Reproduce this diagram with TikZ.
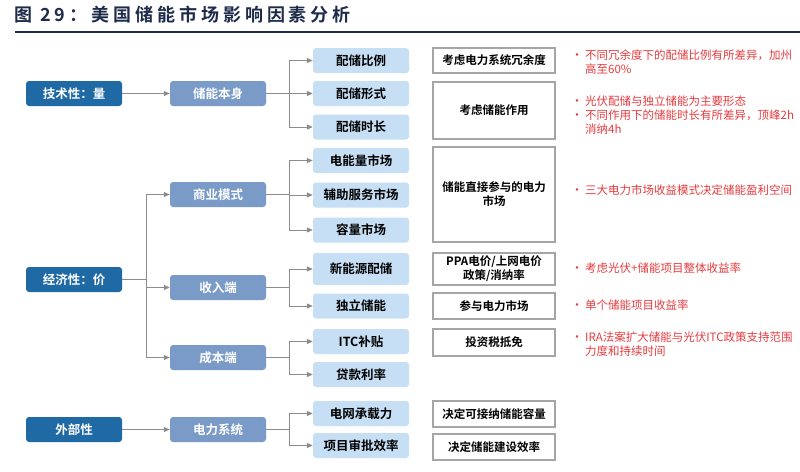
\documentclass[tikz,border=0pt]{standalone}
\usepackage{fontspec}
\setmainfont{Noto Sans CJK SC}[BoldFont={Noto Sans CJK SC Bold}]
\usetikzlibrary{arrows.meta}
\definecolor{deepblue}{HTML}{1F69A5}
\definecolor{midblue}{HTML}{7A9BC8}
\definecolor{paleblue}{HTML}{C6DFF5}
\definecolor{linegray}{HTML}{8C8C8C}
\definecolor{framegray}{HTML}{A5A5A5}
\definecolor{notered}{HTML}{E63B3F}
\definecolor{titlenavy}{HTML}{1E2B4A}
\newcommand{\notebullet}{\makebox[14pt][l]{\fontsize{12}{12}\selectfont•}}

\begin{document}
\begin{tikzpicture}[x=1pt, y=-1pt,
		lvone/.style={fill=deepblue, rounded corners=3pt, minimum width=96pt, minimum height=25pt, inner sep=0pt, text=white, font=\fontsize{12.5}{14}\selectfont\bfseries},
		lvtwo/.style={lvone, fill=midblue},
		lvthree/.style={lvone, fill=paleblue, text=black},
		factbox/.style={draw=framegray, line width=1.2pt, fill=white, minimum width=122pt, inner sep=0pt, align=center, font=\fontsize{11.5}{14}\selectfont\bfseries},
		note/.style={anchor=base west, text width=228pt, align=left, inner sep=0pt, text=notered, font=\fontsize{11.5}{14}\selectfont},
		link/.style={draw=linegray, line width=1pt},
		arr/.style={link, -{Triangle[length=6pt, width=5pt]}}
	]
		\fill[white] (0,0) rectangle (800,471);
		\useasboundingbox (0,0) rectangle (800,471);
		% title
		\node[anchor=west, inner sep=0pt, text=titlenavy, font=\fontsize{18}{20}\selectfont\bfseries\addfontfeature{LetterSpace=22}] (title) at (14,15) {图 29：美国储能市场影响因素分析};
		\draw[titlenavy, line width=1.3pt] (15,32) -- (800,32);
		% first level
		\node[lvone] (tech) at (74,93.5) {技术性：量};
		\node[lvone] (econ) at (74,279.5) {经济性：价};
		\node[lvone] (ext) at (74,429.5) {外部性};
		% second level
		\node[lvtwo] (bess) at (218,93.5) {储能本身};
		\node[lvtwo] (biz) at (218,194.5) {商业模式};
		\node[lvtwo] (rev) at (218,287.5) {收入端};
		\node[lvtwo] (cost) at (218,357.5) {成本端};
		\node[lvtwo] (grid) at (218,429.5) {电力系统};
		% third level
		\node[lvthree] (ratio) at (361,60.5) {配储比例};
		\node[lvthree] (form) at (361,93.5) {配储形式};
		\node[lvthree] (dur) at (361,127) {配储时长};
		\node[lvthree] (energy) at (361,160.5) {电能量市场};
		\node[lvthree] (aux) at (361,195) {辅助服务市场};
		\node[lvthree] (cap) at (361,230) {容量市场};
		\node[lvthree, minimum height=32pt] (newe) at (361,269) {新能源配储};
		\node[lvthree] (indep) at (361,306) {独立储能};
		\node[lvthree] (itc) at (361,341.5) {ITC补贴};
		\node[lvthree] (loan) at (361,374.5) {贷款利率};
		\node[lvthree] (load) at (361,413.5) {电网承载力};
		\node[lvthree] (appr) at (361,445.5) {项目审批效率};
		% boxes on the right
		\node[factbox, minimum height=25pt] (redun) at (494,60.5) {考虑电力系统冗余度};
		\node[factbox, minimum height=57pt] (role) at (494,110.5) {考虑储能作用};
		\node[factbox, minimum height=95pt] (market) at (494,194.5) {储能直接参与的电力\\市场};
		\node[factbox, minimum height=32pt] (ppa) at (494,269) {PPA电价/上网电价\\政策/消纳率};
		\node[factbox, minimum height=26pt] (join) at (494,306) {参与电力市场};
		\node[factbox, minimum height=27pt] (tax) at (494,342.5) {投资税抵免};
		\node[factbox, minimum height=26pt] (gridcap) at (494,414) {决定可接纳储能容量};
		\node[factbox, minimum height=26pt] (speed) at (494,447) {决定储能建设效率};
		% red notes
		\node[note] (n1) at (571,59.5) {\notebullet 不同冗余度下的配储比例有所差异，加州\\\hspace*{14pt}高至60\%};
		\node[note] (n2) at (571,105.5) {\notebullet 光伏配储与独立储能为主要形态\\\notebullet 不同作用下的储能时长有所差异，顶峰2h\\\hspace*{14pt}消纳4h};
		\node[note] (n3) at (571,194.5) {\notebullet 三大电力市场收益模式决定储能盈利空间};
		\node[note] (n4) at (571,272.5) {\notebullet 考虑光伏+储能项目整体收益率};
		\node[note] (n5) at (571,309.5) {\notebullet 单个储能项目收益率};
		\node[note] (n6) at (571,341.5) {\notebullet IRA法案扩大储能与光伏ITC政策支持范围\\\hspace*{14pt}力度和持续时间};
		% connectors
		\coordinate (jbess) at (289,93.5);
		\coordinate (jecon) at (146,279.5);
		\coordinate (jbiz) at (289,194.5);
		\coordinate (jrev) at (289,287.5);
		\coordinate (jcost) at (289,357.5);
		\coordinate (jgrid) at (289,429.5);
		\draw[arr] (tech) -- (bess);
		\draw[arr] (ext) -- (grid);
		\draw[link] (bess.east) -- (jbess);
		\draw[link] (econ.east) -- (jecon);
		\draw[link] (biz.east) -- (jbiz);
		\draw[link] (rev.east) -- (jrev);
		\draw[link] (cost.east) -- (jcost);
		\draw[link] (grid.east) -- (jgrid);
		\foreach \t in {ratio,form,dur} \draw[arr] (jbess) |- (\t.west);
		\foreach \t in {biz,rev,cost} \draw[arr] (jecon) |- (\t.west);
		\foreach \t in {energy,aux,cap} \draw[arr] (jbiz) |- (\t.west);
		\foreach \t in {newe,indep} \draw[arr] (jrev) |- (\t.west);
		\foreach \t in {itc,loan} \draw[arr] (jcost) |- (\t.west);
		\foreach \t in {load,appr} \draw[arr] (jgrid) |- (\t.west);
	\end{tikzpicture}
\end{document}
